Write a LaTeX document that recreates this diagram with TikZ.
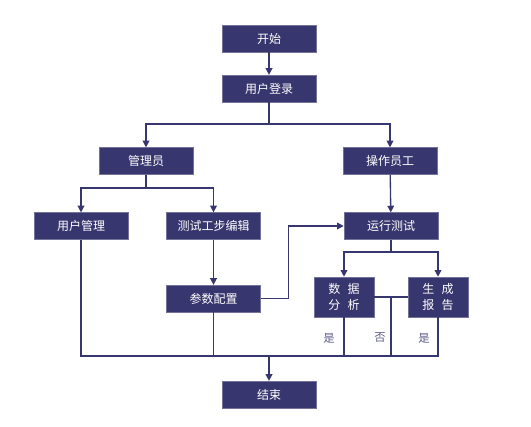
\documentclass[tikz,border=0pt]{standalone}
\usepackage{fontspec}
\newfontfamily\cjk{Noto Sans CJK SC}
\usepackage{xcolor}
\definecolor{flowNavy}{RGB}{56, 54, 110}
\usepackage{tikz}
\usetikzlibrary{
    arrows.meta,
    positioning,
    calc
}

\begin{document}
\begin{tikzpicture}[
    x=0.75pt, y=-0.75pt,
    stepBox/.style={
        rectangle,
        draw=flowNavy!70, line width=0.4pt,
        fill=flowNavy, text=white,
        font=\fontsize{9pt}{11pt}\cjk,
        align=center, inner sep=0pt,
        minimum width=70.5pt, minimum height=20pt
    },
    smallBox/.style={
        stepBox,
        minimum width=45pt, minimum height=30pt,
        font=\fontsize{9pt}{12pt}\cjk
    },
    flowLine/.style={
        line width=1pt, draw=flowNavy
    },
    flowArrow/.style={
        flowLine, -{Triangle[length=5pt, width=5pt]}
    },
    branchLabel/.style={
        font=\fontsize{8.5pt}{10pt}\cjk, text=flowNavy!80, inner sep=1pt
    }
]
    \useasboundingbox (0,0) rectangle (531,427);

    % Main chain
    \node[stepBox] (start) at (269, 38.5) {开始};
    \node[stepBox] (login) at (269, 88.5) {用户登录};

    % Roles
    \node[stepBox] (admin) at (146, 161) {管理员};
    \node[stepBox] (operator) at (390, 161) {操作员工};

    % Admin branch
    \node[stepBox] (userMgmt) at (81, 226) {用户管理};
    \node[stepBox] (stepEdit) at (213.5, 226) {测试工步编辑};
    \node[stepBox] (paramCfg) at (213.5, 298.5) {参数配置};

    % Operator branch
    \node[stepBox] (runTest) at (391, 226) {运行测试};
    \node[smallBox] (dataAna) at (344, 297) {数\hspace{0.6em}据\\分\hspace{0.6em}析};
    \node[smallBox] (report) at (438, 297) {生\hspace{0.6em}成\\报\hspace{0.6em}告};

    % End
    \node[stepBox] (finish) at (269, 394.5) {结束};

    % Junction points
    \coordinate (loginSplit) at (269, 124);
    \coordinate (adminSplit) at (146, 188);
    \coordinate (runSplit) at (391, 252);
    \coordinate (noSplit) at ($(dataAna.east)!0.5!(report.west)$);
    \coordinate (joinEnd) at (269, 356);

    % Connectors
    \draw[flowArrow] (start) -- (login);
    \draw[flowLine] (login) -- (loginSplit);
    \draw[flowArrow] (loginSplit) -| (admin);
    \draw[flowArrow] (loginSplit) -| (operator);

    \draw[flowLine] (admin) -- (adminSplit);
    \draw[flowArrow] (adminSplit) -| (userMgmt);
    \draw[flowArrow] (adminSplit) -| (stepEdit);
    \draw[flowArrow] (stepEdit) -- (paramCfg);
    \draw[flowArrow] (paramCfg.east) -- ++(28,0) |- (runTest.west);

    \draw[flowArrow] (operator) -- (runTest);
    \draw[flowLine] (runTest) -- (runSplit);
    \draw[flowArrow] (runSplit) -| (dataAna);
    \draw[flowArrow] (runSplit) -| (report);
    \draw[flowLine] (dataAna.east) -- (report.west);

    % Merge to end
    \draw[flowLine] (userMgmt.south) |- (joinEnd) -| (report.south);
    \draw[flowLine] (paramCfg.south) -- (paramCfg.south |- joinEnd);
    \draw[flowLine] (dataAna.south) -- (dataAna.south |- joinEnd);
    \draw[flowLine] (noSplit) -- (noSplit |- joinEnd);
    \draw[flowArrow] (joinEnd) -- (finish);

    % Branch labels
    \node[branchLabel] (yesA) at (329, 338) {是};
    \node[branchLabel] (noB) at (380, 338) {否};
    \node[branchLabel] (yesC) at (424, 338) {是};

\end{tikzpicture}
\end{document}
